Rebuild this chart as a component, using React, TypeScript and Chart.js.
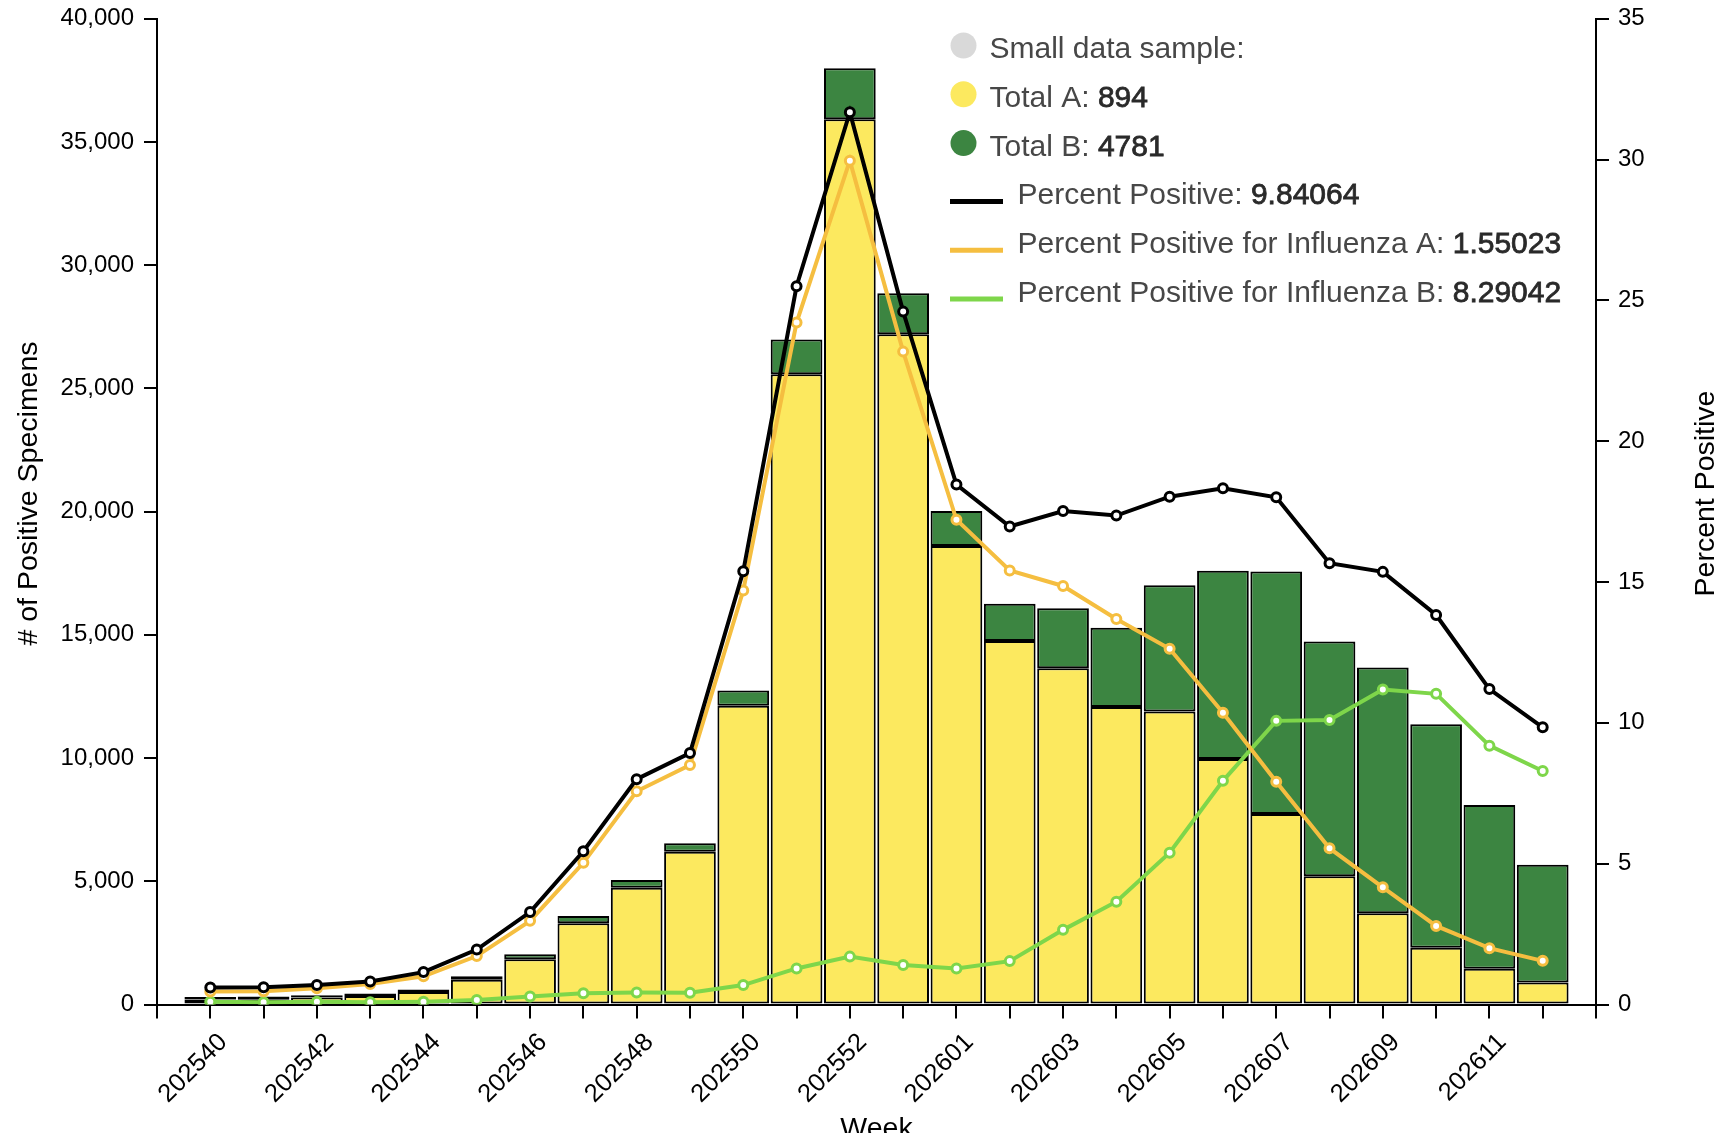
import React, { useEffect, useRef } from 'react';
import { Chart, registerables } from 'chart.js';

Chart.register(...registerables);

const FONT = "'Liberation Sans', Arial, Helvetica, sans-serif";

// ---- data ----
const weeks = [
  '202540', '202541', '202542', '202543', '202544', '202545', '202546', '202547',
  '202548', '202549', '202550', '202551', '202552', '202553',
  '202601', '202602', '202603', '202604', '202605', '202606', '202607', '202608',
  '202609', '202610', '202611', '202612',
];

const totalA = [
  200, 210, 280, 340, 510, 1000, 1840, 3300, 4740, 6200, 12120, 25570, 35920, 27200,
  18600, 14750, 13640, 12070, 11890, 9960, 7730, 5200, 3700, 2300, 1450, 894,
];

const totalB = [
  100, 110, 100, 110, 100, 150, 200, 290, 310, 340, 620, 1410, 2070, 1660,
  1420, 1510, 2440, 3220, 5120, 7640, 9840, 9530, 9970, 9070, 6650, 4781,
];

const pctPositive = [
  0.6, 0.61, 0.69, 0.82, 1.15, 1.95, 3.28, 5.44, 8.0, 8.93, 15.38, 25.5, 31.68, 24.6,
  18.46, 16.97, 17.52, 17.36, 18.03, 18.33, 18.01, 15.67, 15.36, 13.83, 11.2, 9.84064,
];

const pctFluA = [
  0.46, 0.47, 0.58, 0.73, 1.0, 1.72, 2.97, 5.03, 7.57, 8.5, 14.7, 24.21, 29.96, 23.18,
  17.21, 15.41, 14.86, 13.69, 12.63, 10.36, 7.91, 5.55, 4.16, 2.79, 2.0, 1.55023,
];

const pctFluB = [
  0.1, 0.08, 0.1, 0.08, 0.1, 0.16, 0.28, 0.4, 0.43, 0.42, 0.69, 1.28, 1.7, 1.4,
  1.28, 1.54, 2.65, 3.65, 5.39, 7.94, 10.07, 10.1, 11.18, 11.03, 9.19, 8.29042,
];

const countAxisMax = 40000;
const countAxisStep = 5000;
const pctAxisMax = 35;
const pctAxisStep = 5;

// ---- styles ----
const YELLOW = '#FCE95F';
const DARK_GREEN = '#3C8541';
const ORANGE = '#F5BE40';
const LIGHT_GREEN = '#7ED64A';
const GRAY_DOT = '#D9D9D9';

const axisLabels = ['', ...weeks, ''];
const pad = (arr: number[]) => [null, ...arr, null];

const last = (arr: number[]) => arr[arr.length - 1];

const legendRows = [
  { kind: 'dot', color: GRAY_DOT, label: 'Small data sample:', value: '' },
  { kind: 'dot', color: YELLOW, label: 'Total A:', value: String(last(totalA)) },
  { kind: 'dot', color: DARK_GREEN, label: 'Total B:', value: String(last(totalB)) },
  { kind: 'line', color: '#000', label: 'Percent Positive:', value: String(last(pctPositive)) },
  { kind: 'line', color: ORANGE, label: 'Percent Positive for Influenza A:', value: String(last(pctFluA)) },
  { kind: 'line', color: LIGHT_GREEN, label: 'Percent Positive for Influenza B:', value: String(last(pctFluB)) },
];

const overlayPlugin = {
  id: 'overlay',
  afterDraw(chart: any) {
    const { ctx, chartArea } = chart;
    ctx.save();
    // axis titles
    ctx.fillStyle = '#000';
    ctx.font = `28.5px ${FONT}`;
    ctx.textAlign = 'center';
    ctx.textBaseline = 'alphabetic';
    const titleMid = 493.5;
    ctx.save();
    ctx.translate(37, titleMid);
    ctx.rotate(-Math.PI / 2);
    ctx.fillText('# of Positive Specimens', 0, 0);
    ctx.restore();
    ctx.save();
    ctx.translate(chartArea.right + 118, titleMid);
    ctx.rotate(-Math.PI / 2);
    ctx.fillText('Percent Positive', 0, 0);
    ctx.restore();
    ctx.fillText('Week', (chartArea.left + chartArea.right) / 2, 1137);

    // legend
    const baseline0 = 58;
    const rowStep = 48.8;
    ctx.textAlign = 'left';
    legendRows.forEach((row, i) => {
      const by = baseline0 + i * rowStep;
      let tx;
      if (row.kind === 'dot') {
        ctx.fillStyle = row.color;
        ctx.beginPath();
        ctx.arc(963.5, by - 12.5, 13, 0, Math.PI * 2);
        ctx.fill();
        tx = 989.5;
      } else {
        ctx.strokeStyle = row.color;
        ctx.lineWidth = 5;
        ctx.beginPath();
        ctx.moveTo(950, by - 3);
        ctx.lineTo(1003, by - 3);
        ctx.stroke();
        tx = 1017.5;
      }
      ctx.font = `30px ${FONT}`;
      ctx.fillStyle = '#474747';
      ctx.fillText(row.label, tx, by);
      if (row.value) {
        const w = ctx.measureText(row.label + ' ').width;
        ctx.fillStyle = '#2a2a2a';
        ctx.strokeStyle = '#2a2a2a';
        ctx.lineWidth = 0.8;
        ctx.fillText(row.value, tx + w, by);
        ctx.strokeText(row.value, tx + w, by);
      }
    });
    ctx.restore();
  },
};

export default function App() {
  const canvasRef = useRef<HTMLCanvasElement | null>(null);

  useEffect(() => {
    const canvas = canvasRef.current;
    if (!canvas) return;
    const tickFont = { family: FONT, size: 24 };
    const xTickFont = { family: FONT, size: 25.5 };
    const lineDs = (label: string, data: number[], color: string, order: number) => ({
      type: 'line' as const,
      label,
      data: pad(data),
      yAxisID: 'y1',
      borderColor: color,
      backgroundColor: '#fff',
      borderWidth: 4,
      pointRadius: 4.5,
      pointBorderWidth: 3,
      pointBackgroundColor: '#fff',
      pointBorderColor: color,
      tension: 0,
      order,
    });
    const barDs = (label: string, data: number[], color: string) => ({
      type: 'bar' as const,
      label,
      data: pad(data),
      yAxisID: 'y',
      backgroundColor: color,
      borderColor: '#000',
      borderWidth: 2,
      borderSkipped: false,
      categoryPercentage: 1,
      barPercentage: 0.97,
      stack: 's',
      order: 10,
    });
    const noPadY = (w: number) => (s: any) => {
      s.width = w;
      s.paddingTop = 0;
      s.paddingBottom = 0;
    };
    const chart = new Chart(canvas, {
      type: 'bar',
      data: {
        labels: axisLabels,
        datasets: [
          lineDs('Percent Positive', pctPositive, '#000', 1),
          lineDs('Percent Positive for Influenza A', pctFluA, ORANGE, 2),
          lineDs('Percent Positive for Influenza B', pctFluB, LIGHT_GREEN, 3),
          barDs('Total A', totalA, YELLOW),
          barDs('Total B', totalB, DARK_GREEN),
        ] as any,
      },
      options: {
        animation: false,
        responsive: false,
        maintainAspectRatio: false,
        devicePixelRatio: 1,
        layout: { padding: { top: 18.7, left: 0, right: 0, bottom: 0 } },
        plugins: {
          legend: { display: false },
          tooltip: { enabled: false },
          title: { display: false },
        },
        scales: {
          x: {
            type: 'category',
            stacked: true,
            offset: false,
            grid: {
              offset: false,
              drawOnChartArea: false,
              drawTicks: true,
              tickLength: 14,
              color: '#000',
              lineWidth: 2,
            },
            border: { display: true, color: '#000', width: 2 },
            ticks: {
              autoSkip: false,
              maxRotation: 45,
              minRotation: 45,
              padding: 9,
              labelOffset: 13,
              color: '#000',
              font: xTickFont,
              callback: (_v: any, index: number) => {
                const i = index - 1;
                return i >= 0 && i < weeks.length && i % 2 === 0 ? weeks[i] : '';
              },
            },
            afterFit: (s: any) => {
              s.height = 128.5;
              s.paddingLeft = 0;
              s.paddingRight = 0;
            },
          },
          y: {
            type: 'linear',
            position: 'left',
            stacked: true,
            min: 0,
            max: countAxisMax,
            grid: { drawOnChartArea: false, tickLength: 13, color: '#000', lineWidth: 2 },
            border: { display: true, color: '#000', width: 2 },
            ticks: {
              stepSize: countAxisStep,
              padding: 10,
              color: '#000',
              font: tickFont,
              callback: (v: any) => Number(v).toLocaleString('en-US'),
            },
            afterFit: noPadY(157),
          },
          y1: {
            type: 'linear',
            position: 'right',
            min: 0,
            max: pctAxisMax,
            grid: { drawOnChartArea: false, tickLength: 13, color: '#000', lineWidth: 2 },
            border: { display: true, color: '#000', width: 2 },
            ticks: {
              stepSize: pctAxisStep,
              padding: 9,
              color: '#000',
              font: tickFont,
            },
            afterFit: noPadY(131),
          },
        },
      } as any,
      plugins: [overlayPlugin],
    });
    return () => chart.destroy();
  }, []);

  return (
    <div style={{ position: 'absolute', left: 0, top: 0, width: 1727, height: 1133, background: '#fff' }}>
      <canvas ref={canvasRef} width={1727} height={1133} style={{ display: 'block', width: 1727, height: 1133 }} />
    </div>
  );
}
